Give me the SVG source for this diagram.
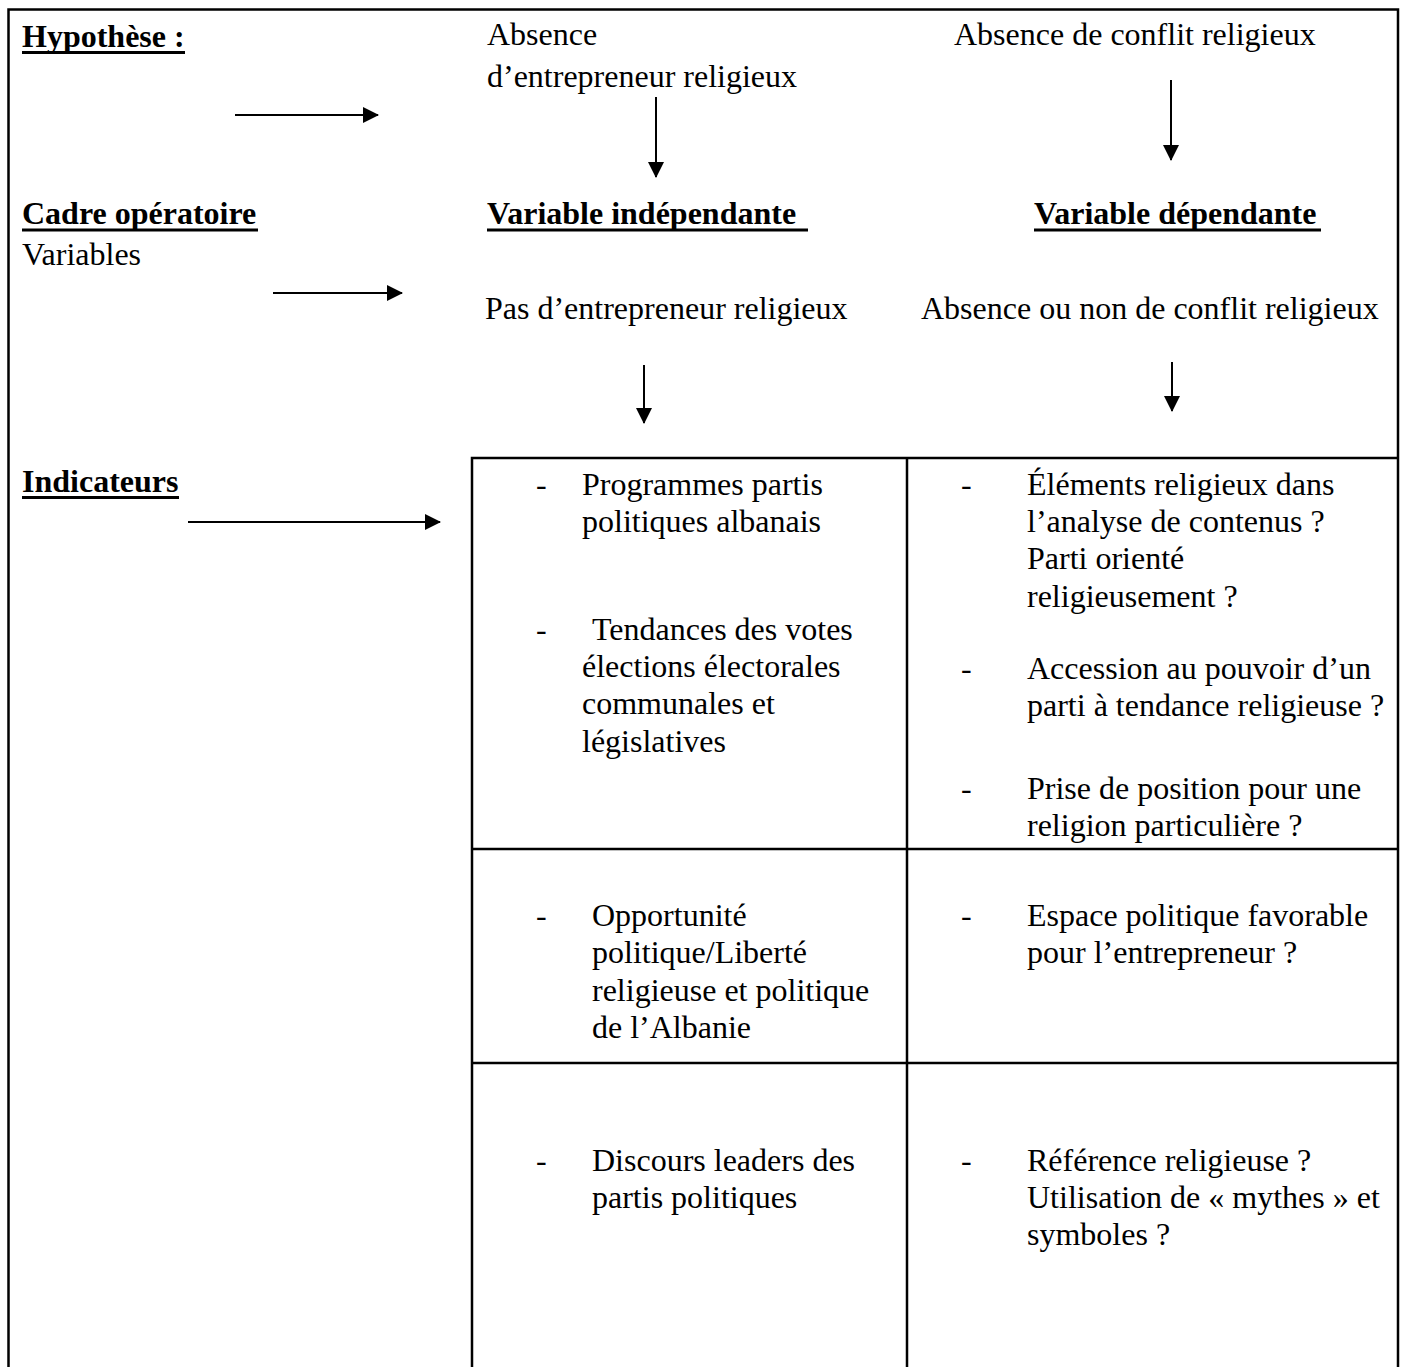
<svg xmlns="http://www.w3.org/2000/svg" width="1405" height="1367" viewBox="0 0 1405 1367">
<style>
  text { font-family: "Liberation Serif", "Times New Roman", serif; font-size: 32px; fill: #000; }
  .b { font-weight: bold; }
  .frame { stroke: #000; stroke-width: 2.5; fill: none; }
  .ul { stroke: #000; stroke-width: 3; }
  .arr { stroke: #000; stroke-width: 2; fill: none; marker-end: url(#ah); }
</style>
<defs>
  <marker id="ah" viewBox="0 0 16 16" refX="15" refY="8" markerWidth="16" markerHeight="16" markerUnits="userSpaceOnUse" orient="auto">
    <path d="M0,0 L16,8 L0,16 Z" fill="#000"/>
  </marker>
</defs>
<rect width="1405" height="1367" fill="#fff"/>

<g id="frame">
  <path class="frame" d="M8.5,1367 V9.5 H1398 V1367"/>
  <path class="frame" d="M472,1367 V458 H1398 M907,458 V1367 M472,849 H1398 M472,1063 H1398"/>
</g>

<g id="hypothese">
  <text class="b" x="22" y="47">Hypothèse :</text>
  <line class="ul" x1="22" y1="52.5" x2="185" y2="52.5"/>
</g>
<g id="absence-entrepreneur">
  <text x="487" y="45">Absence</text>
  <text x="487" y="87">d’entrepreneur religieux</text>
</g>
<g id="absence-conflit">
  <text x="954" y="45">Absence de conflit religieux</text>
</g>

<g id="cadre">
  <text class="b" x="22" y="224">Cadre opératoire</text>
  <line class="ul" x1="22" y1="230" x2="258" y2="230"/>
  <text x="22" y="265">Variables</text>
</g>
<g id="var-indep">
  <text class="b" x="487" y="224">Variable indépendante </text>
  <line class="ul" x1="487" y1="230" x2="808" y2="230"/>
  <text x="485" y="319">Pas d’entrepreneur religieux</text>
</g>
<g id="var-dep">
  <text class="b" x="1034" y="224">Variable dépendante</text>
  <line class="ul" x1="1034" y1="230" x2="1321" y2="230"/>
  <text x="921" y="319">Absence ou non de conflit religieux</text>
</g>

<g id="indicateurs">
  <text class="b" x="22" y="492">Indicateurs</text>
  <line class="ul" x1="22" y1="497.5" x2="179" y2="497.5"/>
</g>

<g id="cell-1-1">
  <text x="536" y="495">-</text>
  <text x="582" y="495">Programmes partis</text>
  <text x="582" y="532">politiques albanais</text>
  <text x="536" y="640">-</text>
  <text x="592" y="640">Tendances des votes</text>
  <text x="582" y="677">élections électorales</text>
  <text x="582" y="714">communales et</text>
  <text x="582" y="752">législatives</text>
</g>
<g id="cell-1-2">
  <text x="961" y="495">-</text>
  <text x="1027" y="495">Éléments religieux dans</text>
  <text x="1027" y="532">l’analyse de contenus ?</text>
  <text x="1027" y="569">Parti orienté</text>
  <text x="1027" y="607">religieusement ?</text>
  <text x="961" y="679">-</text>
  <text x="1027" y="679">Accession au pouvoir d’un</text>
  <text x="1027" y="716">parti à tendance religieuse ?</text>
  <text x="961" y="799">-</text>
  <text x="1027" y="799">Prise de position pour une</text>
  <text x="1027" y="836">religion particulière ?</text>
</g>
<g id="cell-2-1">
  <text x="536" y="926">-</text>
  <text x="592" y="926">Opportunité</text>
  <text x="592" y="963">politique/Liberté</text>
  <text x="592" y="1001">religieuse et politique</text>
  <text x="592" y="1038">de l’Albanie</text>
</g>
<g id="cell-2-2">
  <text x="961" y="926">-</text>
  <text x="1027" y="926">Espace politique favorable</text>
  <text x="1027" y="963">pour l’entrepreneur ?</text>
</g>
<g id="cell-3-1">
  <text x="536" y="1171">-</text>
  <text x="592" y="1171">Discours leaders des</text>
  <text x="592" y="1208">partis politiques</text>
</g>
<g id="cell-3-2">
  <text x="961" y="1171">-</text>
  <text x="1027" y="1171">Référence religieuse ?</text>
  <text x="1027" y="1208">Utilisation de « mythes » et</text>
  <text x="1027" y="1245">symboles ?</text>
</g>

<g id="connectors">
  <line class="arr" x1="235" y1="115" x2="378" y2="115"/>
  <line class="arr" x1="273" y1="293" x2="402" y2="293"/>
  <line class="arr" x1="188" y1="522" x2="440" y2="522"/>
  <line class="arr" x1="656" y1="97" x2="656" y2="177"/>
  <line class="arr" x1="1171" y1="80" x2="1171" y2="160"/>
  <line class="arr" x1="644" y1="365" x2="644" y2="423"/>
  <line class="arr" x1="1172" y1="362" x2="1172" y2="411"/>
</g>
</svg>
